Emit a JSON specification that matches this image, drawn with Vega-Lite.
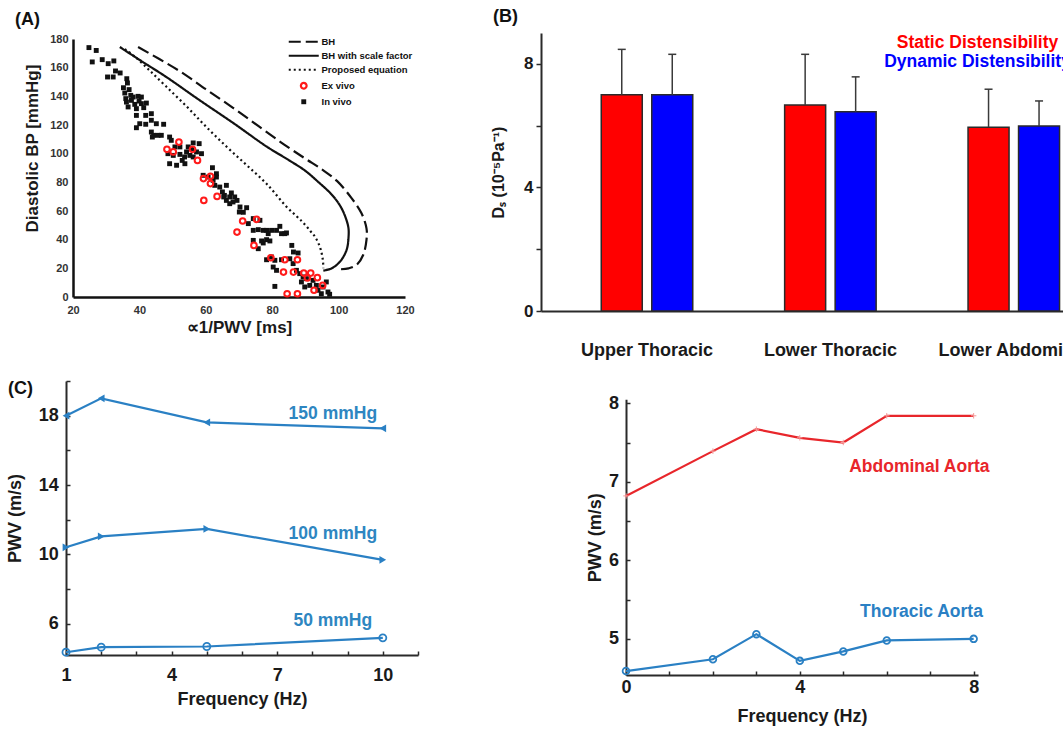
{
  "$schema": "https://vega.github.io/schema/vega-lite/v6.json",
  "usermeta": {"embedOptions": {"actions": false}},
  "autosize": {"type": "none"},
  "padding": {"left": 66, "top": 33, "right": 997, "bottom": 696},
  "background": "white",
  "config": {
    "view": {"stroke": null},
    "font": "Liberation Sans",
    "axis": {
      "grid": false,
      "labelFont": "Liberation Sans",
      "titleFont": "Liberation Sans",
      "labelFontWeight": "bold",
      "titleFontWeight": "bold",
      "labelColor": "#1a1a1a",
      "titleColor": "#1a1a1a",
      "domainColor": "#2a2a2a",
      "tickColor": "#2a2a2a",
      "domainWidth": 2,
      "tickWidth": 1.5,
      "labelFlush": false,
      "labelOverlap": false
    },
    "title": {"font": "Liberation Sans", "fontWeight": "bold", "fontSize": 18, "color": "#111111", "anchor": "start", "frame": "group", "offset": 0},
    "legend": {"labelFont": "Liberation Sans", "labelFontWeight": "bold"}
  },
  "datasets": {
    "curves": [
      {"series": "BH", "i": 0, "t": 39.6, "bp": 174.4},
      {"series": "BH", "i": 1, "t": 46, "bp": 166},
      {"series": "BH", "i": 2, "t": 52.2, "bp": 157.5},
      {"series": "BH", "i": 3, "t": 60, "bp": 145},
      {"series": "BH", "i": 4, "t": 68.2, "bp": 132},
      {"series": "BH", "i": 5, "t": 76, "bp": 119},
      {"series": "BH", "i": 6, "t": 83.5, "bp": 106.5},
      {"series": "BH", "i": 7, "t": 90, "bp": 96.5},
      {"series": "BH", "i": 8, "t": 95, "bp": 89},
      {"series": "BH", "i": 9, "t": 99.5, "bp": 81},
      {"series": "BH", "i": 10, "t": 103.9, "bp": 69},
      {"series": "BH", "i": 11, "t": 106.9, "bp": 58.4},
      {"series": "BH", "i": 12, "t": 108.4, "bp": 47.9},
      {"series": "BH", "i": 13, "t": 108.4, "bp": 39.8},
      {"series": "BH", "i": 14, "t": 107.4, "bp": 29.3},
      {"series": "BH", "i": 15, "t": 105.4, "bp": 22.3},
      {"series": "BH", "i": 16, "t": 103, "bp": 20},
      {"series": "BH", "i": 17, "t": 100.4, "bp": 19.3},
      {"series": "BH with scale factor", "i": 0, "t": 34.1, "bp": 174.4},
      {"series": "BH with scale factor", "i": 1, "t": 41, "bp": 164},
      {"series": "BH with scale factor", "i": 2, "t": 48.1, "bp": 153.5},
      {"series": "BH with scale factor", "i": 3, "t": 58, "bp": 137.5},
      {"series": "BH with scale factor", "i": 4, "t": 68.2, "bp": 121.5},
      {"series": "BH with scale factor", "i": 5, "t": 78.3, "bp": 105},
      {"series": "BH with scale factor", "i": 6, "t": 85, "bp": 95.5},
      {"series": "BH with scale factor", "i": 7, "t": 90, "bp": 88},
      {"series": "BH with scale factor", "i": 8, "t": 94, "bp": 80},
      {"series": "BH with scale factor", "i": 9, "t": 97.5, "bp": 72.5},
      {"series": "BH with scale factor", "i": 10, "t": 99.8, "bp": 66},
      {"series": "BH with scale factor", "i": 11, "t": 101.4, "bp": 59.5},
      {"series": "BH with scale factor", "i": 12, "t": 102.9, "bp": 49.1},
      {"series": "BH with scale factor", "i": 13, "t": 103, "bp": 42},
      {"series": "BH with scale factor", "i": 14, "t": 102.4, "bp": 32.8},
      {"series": "BH with scale factor", "i": 15, "t": 100.4, "bp": 24.6},
      {"series": "BH with scale factor", "i": 16, "t": 97.9, "bp": 20},
      {"series": "BH with scale factor", "i": 17, "t": 95.4, "bp": 18.4},
      {"series": "Proposed equation", "i": 0, "t": 35.6, "bp": 173},
      {"series": "Proposed equation", "i": 1, "t": 39, "bp": 167},
      {"series": "Proposed equation", "i": 2, "t": 43.1, "bp": 158},
      {"series": "Proposed equation", "i": 3, "t": 48, "bp": 147},
      {"series": "Proposed equation", "i": 4, "t": 54.2, "bp": 133},
      {"series": "Proposed equation", "i": 5, "t": 60, "bp": 119},
      {"series": "Proposed equation", "i": 6, "t": 66.2, "bp": 105},
      {"series": "Proposed equation", "i": 7, "t": 72.3, "bp": 92},
      {"series": "Proposed equation", "i": 8, "t": 78.3, "bp": 79},
      {"series": "Proposed equation", "i": 9, "t": 84.3, "bp": 63},
      {"series": "Proposed equation", "i": 10, "t": 87.5, "bp": 56},
      {"series": "Proposed equation", "i": 11, "t": 89.3, "bp": 52},
      {"series": "Proposed equation", "i": 12, "t": 91.5, "bp": 46},
      {"series": "Proposed equation", "i": 13, "t": 92.9, "bp": 42},
      {"series": "Proposed equation", "i": 14, "t": 94.2, "bp": 36},
      {"series": "Proposed equation", "i": 15, "t": 94.9, "bp": 30.5},
      {"series": "Proposed equation", "i": 16, "t": 95.3, "bp": 25},
      {"series": "Proposed equation", "i": 17, "t": 95.4, "bp": 20}
    ],
    "invivo": [
      {"series": "In vivo", "t": 24.8, "bp": 174}, {"series": "In vivo", "t": 27.0, "bp": 172},
      {"series": "In vivo", "t": 25.8, "bp": 164}, {"series": "In vivo", "t": 28.8, "bp": 165.6},
      {"series": "In vivo", "t": 30.6, "bp": 162.8}, {"series": "In vivo", "t": 32.3, "bp": 164.7},
      {"series": "In vivo", "t": 30.4, "bp": 153.5}, {"series": "In vivo", "t": 32.1, "bp": 153.5},
      {"series": "In vivo", "t": 32.8, "bp": 157.7}, {"series": "In vivo", "t": 34.2, "bp": 156.3},
      {"series": "In vivo", "t": 36.2, "bp": 152.3}, {"series": "In vivo", "t": 36.4, "bp": 149.3},
      {"series": "In vivo", "t": 35.2, "bp": 146}, {"series": "In vivo", "t": 36.9, "bp": 144.7},
      {"series": "In vivo", "t": 35.6, "bp": 142.3}, {"series": "In vivo", "t": 37.4, "bp": 140.7},
      {"series": "In vivo", "t": 35.9, "bp": 138.4}, {"series": "In vivo", "t": 38.1, "bp": 139.5},
      {"series": "In vivo", "t": 36.1, "bp": 136}, {"series": "In vivo", "t": 37.6, "bp": 137.2},
      {"series": "In vivo", "t": 36.6, "bp": 132.6}, {"series": "In vivo", "t": 38.6, "bp": 134.4},
      {"series": "In vivo", "t": 39.6, "bp": 140}, {"series": "In vivo", "t": 40.6, "bp": 139.5},
      {"series": "In vivo", "t": 39.9, "bp": 136.7}, {"series": "In vivo", "t": 39.1, "bp": 131.4},
      {"series": "In vivo", "t": 40.6, "bp": 134.9}, {"series": "In vivo", "t": 42.1, "bp": 135.3},
      {"series": "In vivo", "t": 41.3, "bp": 132.1}, {"series": "In vivo", "t": 39.1, "bp": 126.7},
      {"series": "In vivo", "t": 41.9, "bp": 126.7}, {"series": "In vivo", "t": 43.6, "bp": 127.9},
      {"series": "In vivo", "t": 40.1, "bp": 120.9}, {"series": "In vivo", "t": 39.1, "bp": 118.1},
      {"series": "In vivo", "t": 41.9, "bp": 120.5}, {"series": "In vivo", "t": 43.6, "bp": 123.3},
      {"series": "In vivo", "t": 45.1, "bp": 120.9}, {"series": "In vivo", "t": 47.3, "bp": 120.5},
      {"series": "In vivo", "t": 43.6, "bp": 115.1}, {"series": "In vivo", "t": 44.3, "bp": 112.8},
      {"series": "In vivo", "t": 45.6, "bp": 112.8}, {"series": "In vivo", "t": 46.6, "bp": 112.8},
      {"series": "In vivo", "t": 43.9, "bp": 111.6}, {"series": "In vivo", "t": 49.1, "bp": 111.6},
      {"series": "In vivo", "t": 49.6, "bp": 109.3}, {"series": "In vivo", "t": 50.7, "bp": 104.7},
      {"series": "In vivo", "t": 52.2, "bp": 104.7}, {"series": "In vivo", "t": 48.6, "bp": 100},
      {"series": "In vivo", "t": 50.2, "bp": 98.8}, {"series": "In vivo", "t": 52.2, "bp": 99.5},
      {"series": "In vivo", "t": 49.1, "bp": 93}, {"series": "In vivo", "t": 51.2, "bp": 91.9},
      {"series": "In vivo", "t": 52.9, "bp": 95.3}, {"series": "In vivo", "t": 53.6, "bp": 97.7},
      {"series": "In vivo", "t": 54.2, "bp": 101.2}, {"series": "In vivo", "t": 54.7, "bp": 104.7},
      {"series": "In vivo", "t": 55.7, "bp": 103.5}, {"series": "In vivo", "t": 55.2, "bp": 98.8},
      {"series": "In vivo", "t": 53.7, "bp": 93}, {"series": "In vivo", "t": 56.2, "bp": 97.7},
      {"series": "In vivo", "t": 57.2, "bp": 101.2}, {"series": "In vivo", "t": 58.0, "bp": 107},
      {"series": "In vivo", "t": 56.2, "bp": 107.5}, {"series": "In vivo", "t": 58.7, "bp": 100},
      {"series": "In vivo", "t": 62.0, "bp": 90.2}, {"series": "In vivo", "t": 63.2, "bp": 86},
      {"series": "In vivo", "t": 59.2, "bp": 84.9}, {"series": "In vivo", "t": 60.7, "bp": 83.7},
      {"series": "In vivo", "t": 62.2, "bp": 81.4}, {"series": "In vivo", "t": 63.2, "bp": 83.7},
      {"series": "In vivo", "t": 62.7, "bp": 77.9}, {"series": "In vivo", "t": 64.2, "bp": 76.7},
      {"series": "In vivo", "t": 65.0, "bp": 73.3}, {"series": "In vivo", "t": 66.2, "bp": 77.9},
      {"series": "In vivo", "t": 65.6, "bp": 70.9}, {"series": "In vivo", "t": 67.2, "bp": 69.8},
      {"series": "In vivo", "t": 67.7, "bp": 72.6}, {"series": "In vivo", "t": 68.7, "bp": 69.8},
      {"series": "In vivo", "t": 69.4, "bp": 67.4}, {"series": "In vivo", "t": 68.2, "bp": 66.3},
      {"series": "In vivo", "t": 66.2, "bp": 67.4}, {"series": "In vivo", "t": 65.4, "bp": 69.8},
      {"series": "In vivo", "t": 67.2, "bp": 65.1}, {"series": "In vivo", "t": 70.3, "bp": 62.8},
      {"series": "In vivo", "t": 72.3, "bp": 62.3}, {"series": "In vivo", "t": 71.3, "bp": 59.1},
      {"series": "In vivo", "t": 70.1, "bp": 59.3}, {"series": "In vivo", "t": 74.3, "bp": 54.7},
      {"series": "In vivo", "t": 76.3, "bp": 53.5}, {"series": "In vivo", "t": 72.8, "bp": 51.2},
      {"series": "In vivo", "t": 74.3, "bp": 46.5}, {"series": "In vivo", "t": 75.8, "bp": 47},
      {"series": "In vivo", "t": 77.3, "bp": 46.5}, {"series": "In vivo", "t": 78.3, "bp": 46.5},
      {"series": "In vivo", "t": 79.8, "bp": 46.5}, {"series": "In vivo", "t": 78.8, "bp": 44.2},
      {"series": "In vivo", "t": 81.3, "bp": 46.5}, {"series": "In vivo", "t": 82.3, "bp": 49.3},
      {"series": "In vivo", "t": 82.8, "bp": 44.2}, {"series": "In vivo", "t": 83.8, "bp": 44.2},
      {"series": "In vivo", "t": 84.3, "bp": 44.7}, {"series": "In vivo", "t": 78.3, "bp": 40},
      {"series": "In vivo", "t": 79.3, "bp": 39.1}, {"series": "In vivo", "t": 77.3, "bp": 37.7},
      {"series": "In vivo", "t": 75.8, "bp": 33.7}, {"series": "In vivo", "t": 74.3, "bp": 39.5},
      {"series": "In vivo", "t": 76.8, "bp": 39.1}, {"series": "In vivo", "t": 85.9, "bp": 36},
      {"series": "In vivo", "t": 86.4, "bp": 31.4}, {"series": "In vivo", "t": 87.8, "bp": 30.7},
      {"series": "In vivo", "t": 78.3, "bp": 26}, {"series": "In vivo", "t": 79.8, "bp": 27.9},
      {"series": "In vivo", "t": 80.8, "bp": 25.6}, {"series": "In vivo", "t": 80.3, "bp": 20.9},
      {"series": "In vivo", "t": 81.3, "bp": 18.6}, {"series": "In vivo", "t": 82.8, "bp": 26},
      {"series": "In vivo", "t": 85.3, "bp": 26.7}, {"series": "In vivo", "t": 86.3, "bp": 23.3},
      {"series": "In vivo", "t": 87.3, "bp": 18.6}, {"series": "In vivo", "t": 88.3, "bp": 16.3},
      {"series": "In vivo", "t": 89.3, "bp": 14}, {"series": "In vivo", "t": 90.3, "bp": 12.8},
      {"series": "In vivo", "t": 88.8, "bp": 10.5}, {"series": "In vivo", "t": 89.8, "bp": 7},
      {"series": "In vivo", "t": 91.3, "bp": 8.1}, {"series": "In vivo", "t": 92.3, "bp": 11.6},
      {"series": "In vivo", "t": 93.3, "bp": 8.1}, {"series": "In vivo", "t": 93.8, "bp": 4.7},
      {"series": "In vivo", "t": 94.8, "bp": 2.3}, {"series": "In vivo", "t": 95.3, "bp": 7},
      {"series": "In vivo", "t": 96.3, "bp": 10.5}, {"series": "In vivo", "t": 96.8, "bp": 3.5},
      {"series": "In vivo", "t": 97.3, "bp": 1.9}, {"series": "In vivo", "t": 80.8, "bp": 7.4}
    ],
    "exvivo": [
      {"series": "Ex vivo", "t": 48.3, "bp": 103}, {"series": "Ex vivo", "t": 50.2, "bp": 101.2},
      {"series": "Ex vivo", "t": 51.9, "bp": 108.1}, {"series": "Ex vivo", "t": 56.0, "bp": 103},
      {"series": "Ex vivo", "t": 57.5, "bp": 95.3}, {"series": "Ex vivo", "t": 59.3, "bp": 82.6},
      {"series": "Ex vivo", "t": 61.4, "bp": 84.2}, {"series": "Ex vivo", "t": 61.4, "bp": 79.1},
      {"series": "Ex vivo", "t": 59.4, "bp": 67.4}, {"series": "Ex vivo", "t": 63.4, "bp": 70.2},
      {"series": "Ex vivo", "t": 71.1, "bp": 53}, {"series": "Ex vivo", "t": 75.3, "bp": 54.2},
      {"series": "Ex vivo", "t": 69.4, "bp": 45.3}, {"series": "Ex vivo", "t": 74.5, "bp": 36},
      {"series": "Ex vivo", "t": 79.6, "bp": 27.4}, {"series": "Ex vivo", "t": 83.8, "bp": 26},
      {"series": "Ex vivo", "t": 87.6, "bp": 26}, {"series": "Ex vivo", "t": 83.4, "bp": 17.4},
      {"series": "Ex vivo", "t": 86.4, "bp": 17.4}, {"series": "Ex vivo", "t": 89.5, "bp": 16.7},
      {"series": "Ex vivo", "t": 91.6, "bp": 16.7}, {"series": "Ex vivo", "t": 93.6, "bp": 13.5},
      {"series": "Ex vivo", "t": 90.6, "bp": 13.3}, {"series": "Ex vivo", "t": 95.2, "bp": 8.1},
      {"series": "Ex vivo", "t": 92.6, "bp": 4.7}, {"series": "Ex vivo", "t": 84.5, "bp": 2.3},
      {"series": "Ex vivo", "t": 87.6, "bp": 2.3}
    ],
    "bars": [
      {"region": "Upper Thoracic", "type": "Static Distensibility", "mean": 7.0, "upper": 8.47},
      {"region": "Upper Thoracic", "type": "Dynamic Distensibility", "mean": 7.0, "upper": 8.31},
      {"region": "Lower Thoracic", "type": "Static Distensibility", "mean": 6.67, "upper": 8.31},
      {"region": "Lower Thoracic", "type": "Dynamic Distensibility", "mean": 6.45, "upper": 7.58},
      {"region": "Lower Abdominal", "type": "Static Distensibility", "mean": 5.95, "upper": 7.18},
      {"region": "Lower Abdominal", "type": "Dynamic Distensibility", "mean": 5.99, "upper": 6.8}
    ],
    "pressure": [
      {"level": "150 mmHg", "f": 1, "pwv": 18.0},
      {"level": "150 mmHg", "f": 2, "pwv": 19.0},
      {"level": "150 mmHg", "f": 5, "pwv": 17.61},
      {"level": "150 mmHg", "f": 10, "pwv": 17.27},
      {"level": "100 mmHg", "f": 1, "pwv": 10.41},
      {"level": "100 mmHg", "f": 2, "pwv": 11.04},
      {"level": "100 mmHg", "f": 5, "pwv": 11.47},
      {"level": "100 mmHg", "f": 10, "pwv": 9.69},
      {"level": "50 mmHg", "f": 1, "pwv": 4.36},
      {"level": "50 mmHg", "f": 2, "pwv": 4.65},
      {"level": "50 mmHg", "f": 5, "pwv": 4.69},
      {"level": "50 mmHg", "f": 10, "pwv": 5.19}
    ],
    "pressure_labels": [
      {"level": "150 mmHg", "f": 8.58, "pwv": 18.1},
      {"level": "100 mmHg", "f": 8.58, "pwv": 11.17},
      {"level": "50 mmHg", "f": 8.58, "pwv": 6.15}
    ],
    "sites": [
      {"site": "Abdominal Aorta", "f": 0, "pwv": 6.82},
      {"site": "Abdominal Aorta", "f": 2, "pwv": 7.39},
      {"site": "Abdominal Aorta", "f": 3, "pwv": 7.67},
      {"site": "Abdominal Aorta", "f": 4, "pwv": 7.56},
      {"site": "Abdominal Aorta", "f": 5, "pwv": 7.5},
      {"site": "Abdominal Aorta", "f": 6, "pwv": 7.84},
      {"site": "Abdominal Aorta", "f": 8, "pwv": 7.84},
      {"site": "Thoracic Aorta", "f": 0, "pwv": 4.59},
      {"site": "Thoracic Aorta", "f": 2, "pwv": 4.74},
      {"site": "Thoracic Aorta", "f": 3, "pwv": 5.06},
      {"site": "Thoracic Aorta", "f": 4, "pwv": 4.72},
      {"site": "Thoracic Aorta", "f": 5, "pwv": 4.84},
      {"site": "Thoracic Aorta", "f": 6, "pwv": 4.98},
      {"site": "Thoracic Aorta", "f": 8, "pwv": 5.0}
    ],
    "site_labels": [
      {"site": "Abdominal Aorta", "f": 6.75, "pwv": 7.19},
      {"site": "Thoracic Aorta", "f": 6.8, "pwv": 5.34}
    ]
  },
  "columns": 2,
  "bounds": "flush",
  "align": "each",
  "spacing": {"row": 69, "column": 123},
  "resolve": {
    "scale": {"color": "independent", "shape": "independent", "strokeDash": "independent"},
    "legend": {"color": "independent", "shape": "independent", "strokeDash": "independent"}
  },
  "concat": [
    {
      "width": 339,
      "height": 264,
      "title": {"text": "(A)", "dx": -51, "dy": 0},
      "encoding": {
        "x": {
          "field": "t", "type": "quantitative",
          "scale": {"domain": [20, 120], "range": [7, 339], "nice": false, "zero": false},
          "axis": {"values": [20, 40, 60, 80, 100, 120], "ticks": false, "domainColor": "#111111", "domainWidth": 2.5,
                   "labelFontSize": 11, "labelPadding": 7, "labelColor": "#333333",
                   "title": "∝1/PWV [ms]", "titleFontSize": 17, "titlePadding": 4}
        },
        "y": {
          "field": "bp", "type": "quantitative",
          "scale": {"domain": [0, 180], "range": [264, 6], "nice": false, "zero": false},
          "axis": {"values": [0, 20, 40, 60, 80, 100, 120, 140, 160, 180], "ticks": false, "offset": -7,
                   "domainColor": "#111111", "domainWidth": 2.5,
                   "labelFontSize": 11, "labelPadding": 5, "labelColor": "#333333",
                   "title": "Diastolic BP [mmHg]", "titleFontSize": 17,
                   "titleX": -41, "titleY": 115, "titleBaseline": "middle", "titleAngle": 270}
        },
        "color": {
          "field": "series", "type": "nominal",
          "scale": {"domain": ["BH", "BH with scale factor", "Proposed equation", "Ex vivo", "In vivo"],
                    "range": ["#111111", "#111111", "#111111", "#ff1a1a", "#111111"]},
          "legend": {
            "orient": "none", "legendX": 223, "legendY": 4, "direction": "vertical", "title": null,
            "padding": 0, "symbolSize": 900, "symbolStrokeWidth": 2.2, "symbolOffset": 10,
            "labelFontSize": 9.5, "labelColor": "#111111", "labelOffset": 13, "rowPadding": 3, "labelLimit": 0,
            "encode": {
              "symbols": {
                "update": {
                  "shape": {"signal": "datum.value === 'Ex vivo' ? 'circle' : datum.value === 'In vivo' ? 'square' : 'stroke'"},
                  "size": {"signal": "datum.value === 'Ex vivo' ? 32 : datum.value === 'In vivo' ? 24 : 900"},
                  "strokeDash": {"signal": "datum.value === 'BH' ? [12, 5] : datum.value === 'Proposed equation' ? [2, 3] : [1, 0]"},
                  "fill": {"signal": "datum.value === 'In vivo' ? '#111111' : 'transparent'"},
                  "fillOpacity": {"signal": "datum.value === 'In vivo' ? 1 : 0"},
                  "stroke": {"signal": "datum.value === 'Ex vivo' ? '#ff1a1a' : '#111111'"},
                  "strokeWidth": {"signal": "datum.value === 'In vivo' ? 0 : 2.2"},
                  "opacity": {"value": 1}
                }
              }
            }
          }
        }
      },
      "layer": [
        {
          "data": {"name": "curves"},
          "mark": {"type": "line", "interpolate": "catmull-rom", "strokeWidth": 2.2},
          "encoding": {
            "strokeDash": {"field": "series", "type": "nominal",
                           "scale": {"domain": ["BH", "BH with scale factor", "Proposed equation"], "range": [[12, 5], [1, 0], [2, 3]]},
                           "legend": null},
            "order": {"field": "i", "type": "quantitative"}
          }
        },
        {
          "data": {"name": "invivo"},
          "mark": {"type": "square", "size": 24, "opacity": 1}
        },
        {
          "data": {"name": "exvivo"},
          "mark": {"type": "point", "shape": "circle", "filled": false, "size": 32, "strokeWidth": 2, "opacity": 1}
        }
      ]
    },
    {
      "width": 522,
      "height": 278,
      "title": {"text": "(B)", "dx": -48, "dy": -3.5},
      "data": {"name": "bars"},
      "encoding": {
        "x": {
          "field": "region", "type": "nominal",
          "scale": {"domain": ["Upper Thoracic", "Lower Thoracic", "Lower Abdominal"], "range": [0, 578.8],
                    "paddingInner": 0.501, "paddingOuter": 0.3285},
          "axis": {"ticks": false, "labelAngle": 0, "labelFontSize": 18, "labelPadding": 39, "labelBaseline": "middle",
                   "labelLimit": 0, "domainWidth": 2, "title": null}
        },
        "xOffset": {
          "field": "type", "type": "nominal",
          "scale": {"domain": ["Static Distensibility", "Dynamic Distensibility"], "paddingInner": 0.188, "paddingOuter": 0}
        }
      },
      "layer": [
        {
          "mark": {"type": "bar", "stroke": "#2a2a2a", "strokeWidth": 1.5},
          "encoding": {
            "y": {
              "field": "mean", "type": "quantitative",
              "scale": {"domain": [0, 9], "nice": false},
              "axis": {"values": [0, 1, 2, 3, 4, 5, 6, 7, 8, 9], "labelExpr": "datum.value % 4 === 0 ? datum.label : ''",
                       "tickSize": 5, "labelPadding": 3, "labelFontSize": 17,
                       "title": "Dₛ (10⁻⁵Pa⁻¹)", "titleFontSize": 16, "titlePadding": 17}
            },
            "color": {
              "field": "type", "type": "nominal",
              "scale": {"domain": ["Static Distensibility", "Dynamic Distensibility"], "range": ["#ff0000", "#0000ff"]},
              "legend": {
                "orient": "none", "legendX": 419, "legendY": 1, "direction": "vertical", "title": null,
                "padding": 0, "symbolSize": 0, "symbolOpacity": 0, "symbolType": "circle",
                "labelFontSize": 17.5, "labelAlign": "center", "labelOffset": 0, "rowPadding": 0, "labelLimit": 0,
                "labelColor": {"expr": "datum.value === 'Static Distensibility' ? '#ff0000' : '#0000ff'"}
              }
            }
          }
        },
        {
          "mark": {"type": "rule", "color": "#3a3a3a", "strokeWidth": 1.5},
          "encoding": {
            "y": {"field": "mean", "type": "quantitative"},
            "y2": {"field": "upper"}
          }
        },
        {
          "mark": {"type": "tick", "color": "#3a3a3a", "thickness": 1.5, "size": 8, "opacity": 1},
          "encoding": {
            "y": {"field": "upper", "type": "quantitative"}
          }
        }
      ]
    },
    {
      "width": 352,
      "height": 275,
      "title": {"text": "(C)", "dx": -58, "dy": 30},
      "encoding": {
        "x": {
          "field": "f", "type": "quantitative",
          "scale": {"domain": [1, 11], "range": [0, 352], "nice": false, "zero": false},
          "axis": {"values": [1, 2, 3, 4, 5, 6, 7, 8, 9, 10, 11], "labelExpr": "(datum.value - 1) % 3 === 0 ? datum.label : ''",
                   "tickSize": -4, "labelPadding": 15.7, "labelFontSize": 18,
                   "title": "Frequency (Hz)", "titleFontSize": 18, "titlePadding": 6}
        },
        "y": {
          "field": "pwv", "type": "quantitative",
          "scale": {"domain": [4.2, 20], "range": [275, 1], "nice": false, "zero": false},
          "axis": {"values": [6, 8, 10, 12, 14, 16, 18, 20], "labelExpr": "(datum.value - 6) % 4 === 0 ? datum.label : ''",
                   "tickSize": -4, "labelPadding": 11.7, "labelFontSize": 18,
                   "title": "PWV (m/s)", "titleFontSize": 18, "titlePadding": 13.5}
        }
      },
      "layer": [
        {
          "data": {"name": "pressure"},
          "mark": {"type": "line", "color": "#2a80c4", "strokeWidth": 2.2},
          "encoding": {"detail": {"field": "level", "type": "nominal"}}
        },
        {
          "data": {"name": "pressure"},
          "transform": [{"filter": "datum.level !== '50 mmHg'"}],
          "mark": {"type": "point", "filled": true, "color": "#2a80c4", "size": 60, "opacity": 1},
          "encoding": {
            "shape": {"field": "level", "type": "nominal",
                      "scale": {"domain": ["150 mmHg", "100 mmHg"], "range": ["triangle-left", "triangle-right"]},
                      "legend": null}
          }
        },
        {
          "data": {"name": "pressure"},
          "transform": [{"filter": "datum.level === '50 mmHg'"}],
          "mark": {"type": "point", "shape": "circle", "filled": false, "color": "#2a80c4", "size": 50, "strokeWidth": 1.8, "opacity": 1}
        },
        {
          "data": {"name": "pressure_labels"},
          "mark": {"type": "text", "color": "#2e86c1", "fontSize": 17.5, "fontWeight": "bold", "font": "Liberation Sans", "align": "center", "baseline": "middle"},
          "encoding": {"text": {"field": "level", "type": "nominal"}}
        }
      ]
    },
    {
      "width": 437,
      "height": 295,
      "encoding": {
        "x": {
          "field": "f", "type": "quantitative",
          "scale": {"domain": [0, 8.1], "range": [85, 437], "nice": false, "zero": false},
          "axis": {"values": [0, 1, 2, 3, 4, 5, 6, 7, 8], "labelExpr": "datum.value % 4 === 0 ? datum.label : ''",
                   "tickSize": -4, "labelPadding": 7.7, "labelFontSize": 18,
                   "title": "Frequency (Hz)", "titleFontSize": 18, "titlePadding": 11}
        },
        "y": {
          "field": "pwv", "type": "quantitative",
          "scale": {"domain": [4.54, 8.05], "range": [295, 19.3], "nice": false, "zero": false},
          "axis": {"values": [5, 5.5, 6, 6.5, 7, 7.5, 8], "format": ".0f", "labelExpr": "datum.value % 1 === 0 ? datum.label : ''",
                   "offset": -85, "tickSize": -4, "labelPadding": 11.4, "labelFontSize": 18,
                   "title": "PWV (m/s)", "titleFontSize": 18, "titlePadding": 4}
        },
        "color": {
          "field": "site", "type": "nominal",
          "scale": {"domain": ["Abdominal Aorta", "Thoracic Aorta"], "range": ["#e8262b", "#2a80c4"]},
          "legend": null
        }
      },
      "layer": [
        {
          "data": {"name": "sites"},
          "mark": {"type": "line", "strokeWidth": 2.2}
        },
        {
          "data": {"name": "sites"},
          "transform": [{"filter": "datum.site === 'Abdominal Aorta'"}],
          "mark": {"type": "point", "shape": "M-1,0L1,0M0,-1L0,1", "filled": false, "size": 30, "strokeWidth": 1, "opacity": 1},
          "encoding": {"color": {"value": "#f59a9a"}}
        },
        {
          "data": {"name": "sites"},
          "transform": [{"filter": "datum.site === 'Thoracic Aorta'"}],
          "mark": {"type": "point", "shape": "circle", "filled": false, "size": 45, "strokeWidth": 1.8, "opacity": 1}
        },
        {
          "data": {"name": "site_labels"},
          "mark": {"type": "text", "fontSize": 17.5, "fontWeight": "bold", "font": "Liberation Sans", "align": "center", "baseline": "middle"},
          "encoding": {"text": {"field": "site", "type": "nominal"}}
        }
      ]
    }
  ]
}
